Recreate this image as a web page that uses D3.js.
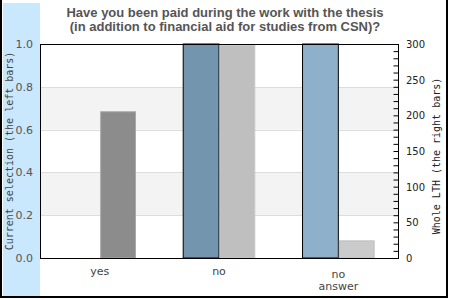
<!DOCTYPE html>
<html>
<head>
<meta charset="utf-8">
<script src="https://cdn.jsdelivr.net/npm/d3@7"></script>
<style>
  body { margin: 0; background: #fff; }
  svg { display: block; }
</style>
</head>
<body>
<svg width="450" height="300"></svg>
<script>
// data
const categories = ["yes", "no", "no answer"];
const selectionShare = [0, 1.0, 1.0];      // left bars, 0..1
const wholeCount = [205, 298, 24];         // right bars, 0..300
const leftTicks = [0, 0.2, 0.4, 0.6, 0.8, 1.0];
const rightTicks = [0, 50, 100, 150, 200, 250, 300];
const titleLines = ["Have you been paid during the work with the thesis",
                    "(in addition to financial aid for studies from CSN)?"];

// styles
const leftFill = ["#7395ae", "#7395ae", "#8eb0cb"];
const rightFill = ["#8c8c8c", "#bfbfbf", "#cbcbcb"];
const rightStroke = ["#a8a8a8", "#c8c8c8", "#bdbdbd"];

let plot = {left: 40, top: 44, right: 398, bottom: 258};
let plotW = plot.right - plot.left, plotH = plot.bottom - plot.top;

const svg = d3.select("svg");

// outer frame + blue band on the left
svg.append("rect")
  .attr("x", 3).attr("y", 3).attr("width", 37).attr("height", 293)
  .attr("fill", "#c9e7fd");
svg.append("path")
  .attr("d", "M1,0 V297 H447 V0")
  .attr("fill", "none").attr("stroke", "#000").attr("stroke-width", 2);

const x = d3.scaleBand()
  .domain(categories)
  .range([plot.left, plot.right]);

const yL = d3.scaleLinear().domain([0, 1]).range([plot.bottom, plot.top]);
const yR = d3.scaleLinear().domain([0, 300]).range([plot.bottom, plot.top]);

// alternating grid bands
const bands = [[0.2, 0.4], [0.6, 0.8]];
svg.append("g").selectAll("rect").data(bands).enter().append("rect")
  .attr("x", plot.left)
  .attr("y", d => yL(d[1]))
  .attr("width", plotW)
  .attr("height", d => yL(d[0]) - yL(d[1]))
  .attr("fill", "#f3f3f3");

svg.append("g").selectAll("line").data(leftTicks.slice(1, -1)).enter().append("line")
  .attr("x1", plot.left).attr("x2", plot.right)
  .attr("y1", d => Math.round(yL(d)) + 0.5)
  .attr("y2", d => Math.round(yL(d)) + 0.5)
  .attr("stroke", "#dddddd");

// bars
const barW = x.bandwidth() * 0.3;
const rows = categories.map((c, i) => ({cat: c, share: selectionShare[i], count: wholeCount[i], i: i}));

svg.append("g").selectAll("rect").data(rows.filter(d => d.share > 0)).enter().append("rect")
  .attr("x", d => x(d.cat) + x.bandwidth() / 2 - barW)
  .attr("y", d => yL(d.share))
  .attr("width", barW)
  .attr("height", d => plot.bottom - yL(d.share))
  .attr("fill", d => leftFill[d.i])
  .attr("stroke", "#000");

svg.append("g").selectAll("rect").data(rows).enter().append("rect")
  .attr("x", d => x(d.cat) + x.bandwidth() / 2 + 1)
  .attr("y", d => yR(d.count))
  .attr("width", barW - 1)
  .attr("height", d => plot.bottom - yR(d.count))
  .attr("fill", d => rightFill[d.i])
  .attr("stroke", d => rightStroke[d.i]);

// plot frame
svg.append("rect")
  .attr("x", plot.left + 0.5).attr("y", plot.top + 0.5)
  .attr("width", plotW).attr("height", plotH)
  .attr("fill", "none").attr("stroke", "#000");

// left axis labels
svg.append("g").selectAll("text").data(leftTicks).enter().append("text")
  .attr("x", 33)
  .attr("y", d => yL(d) + 4)
  .attr("text-anchor", "end")
  .attr("font-family", "DejaVu Sans")
  .attr("font-size", "11px")
  .attr("fill", "#555")
  .text(d => d.toFixed(1));

// right axis: minor ticks every 10, labels every 50
const rightAxis = d3.axisLeft(yR)
  .tickValues(d3.range(0, 301, 10))
  .tickSize(5)
  .tickFormat("");
const rAxisG = svg.append("g")
  .attr("transform", `translate(${plot.right + 0.5},0)`)
  .call(rightAxis);
rAxisG.select(".domain").remove();
rAxisG.selectAll("line").attr("stroke", "#000");

svg.append("g").selectAll("text").data(rightTicks).enter().append("text")
  .attr("x", 406)
  .attr("y", d => yR(d) + 4)
  .attr("font-family", "DejaVu Sans")
  .attr("font-size", "10px")
  .attr("fill", "#222")
  .text(d => d);

// category labels
const catG = svg.append("g").selectAll("text").data(categories).enter().append("text")
  .attr("text-anchor", "middle")
  .attr("font-family", "DejaVu Sans")
  .attr("font-size", "11px")
  .attr("fill", "#444")
  .attr("y", d => d.includes(" ") ? 278 : 275);
catG.each(function(d) {
  const words = d.split(" ");
  const el = d3.select(this);
  words.forEach((w, k) => {
    el.append("tspan")
      .attr("x", x(d) + x.bandwidth() / 2)
      .attr("dy", k === 0 ? 0 : 12)
      .text(w);
  });
});

// axis titles
svg.append("text")
  .attr("transform", `translate(13,${(plot.top + plot.bottom) / 2}) rotate(-90)`)
  .attr("text-anchor", "middle")
  .attr("font-family", "DejaVu Sans Mono")
  .attr("font-size", "10px")
  .attr("fill", "#444")
  .text("Current selection (the left bars)");

svg.append("text")
  .attr("transform", `translate(440,156) rotate(-90)`)
  .attr("text-anchor", "middle")
  .attr("font-family", "DejaVu Sans Mono")
  .attr("font-size", "10px")
  .attr("fill", "#222")
  .text("Whole LTH (the right bars)");

// title
svg.append("g").selectAll("text").data(titleLines).enter().append("text")
  .attr("x", 225)
  .attr("y", (d, i) => 17 + i * 14)
  .attr("text-anchor", "middle")
  .attr("font-family", "Liberation Sans, Arial, sans-serif")
  .attr("font-weight", "bold")
  .attr("font-size", "13px")
  .attr("fill", "#555")
  .text(d => d);
</script>
</body>
</html>
